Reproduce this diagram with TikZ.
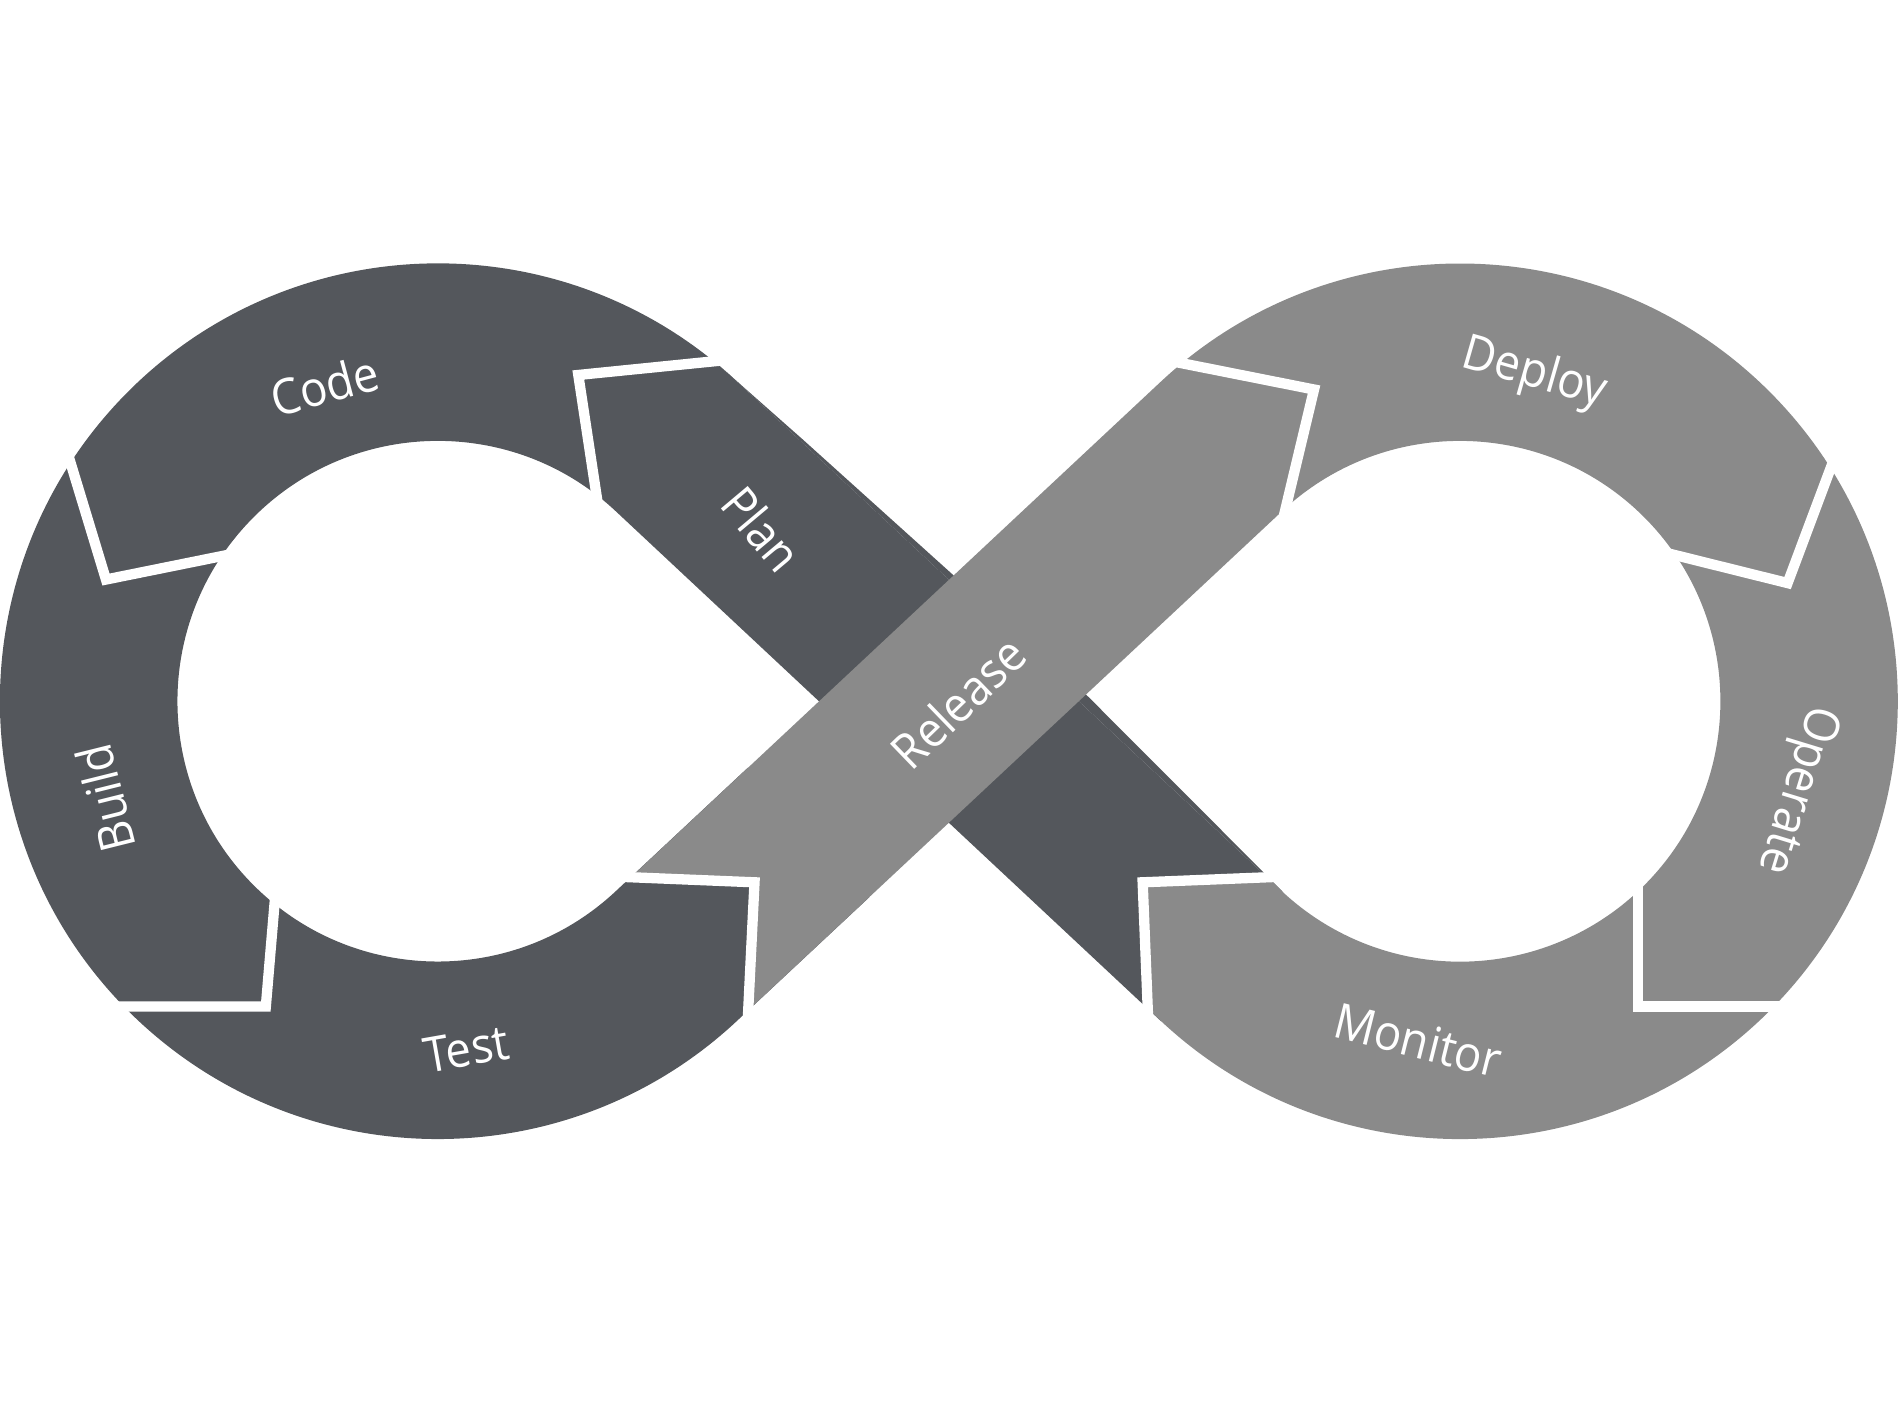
\documentclass[tikz,border=0pt]{standalone}
\usepackage{fontspec}
\setmainfont{Open Sans}[FakeStretch=0.93]
\definecolor{darkseg}{RGB}{84,87,92}
\definecolor{lightseg}{RGB}{138,138,138}
\begin{document}
\begin{tikzpicture}[x=0.01cm,y=-0.01cm,
  lbl/.style={text=white,font=\fontsize{11.5}{13}\selectfont,inner sep=0pt},
  gap/.style={draw=white,line width=0.085cm,line join=miter,line cap=butt}]
\useasboundingbox (0,0) rectangle (1568,1156);
% dark ribbon: Plan band + left ring
\draw[darkseg,line width=1.465cm] (1008.8,789.7) -- (558.2,368.3)
  arc[start angle=-46.96,end angle=-313.04,radius=288.25] -- (667.8,687.2);
\fill[darkseg] (594,302) -- (663,363) -- (898.6,575.3) -- (1043,720)
  -- (1058.8,736.1) -- (608.2,314.8) -- cycle;
% light ribbon: Release band + right ring
\fill[lightseg] (1047.3,724.3) -- (943.5,728.5) -- (948.6,833.3)
  arc[start angle=135.3,end angle=-133.04,radius=361.5]
  -- (521,724.3) -- (623,728.5) -- (617.8,834.2) -- (1058.8,421.9)
  arc[start angle=-133.04,end angle=137.4,radius=215] -- cycle;
% white separators
\draw[gap] (598.6,297.4) -- (477.5,309.6) -- (493.7,416.6);
\draw[gap] (56.2,375.3) -- (87.5,478.5) -- (191.8,457.4);
\draw[gap] (94,831) -- (219.5,831) -- (227.3,739);
\draw[gap] (513,724) -- (623,728.5) -- (617.4,842.3);
\draw[gap] (968.2,298.4) -- (1085,321.6) -- (1060.1,425.8);
\draw[gap] (1514.2,379.5) -- (1476,481.4) -- (1374.2,456.1);
\draw[gap] (1352.7,728) -- (1352.7,831) -- (1474,831);
\draw[gap] (1055.3,724) -- (943.5,728.5) -- (948,840.5);
% labels
\node[lbl,rotate=15] (code) at (268,318) {Code};
\node[lbl,rotate=104] (build) at (87,659) {Build};
\node[lbl,rotate=10] (test) at (385,866) {Test};
\node[lbl,rotate=-50] (plan) at (629,437) {Plan};
\node[lbl,rotate=44] (release) at (791,580) {Release};
\node[lbl,rotate=-16] (deploy) at (1267,309) {Deploy};
\node[lbl,rotate=-107] (operate) at (1483,652) {Operate};
\node[lbl,rotate=-14] (monitor) at (1171,859) {Monitor};
\end{tikzpicture}
\end{document}
